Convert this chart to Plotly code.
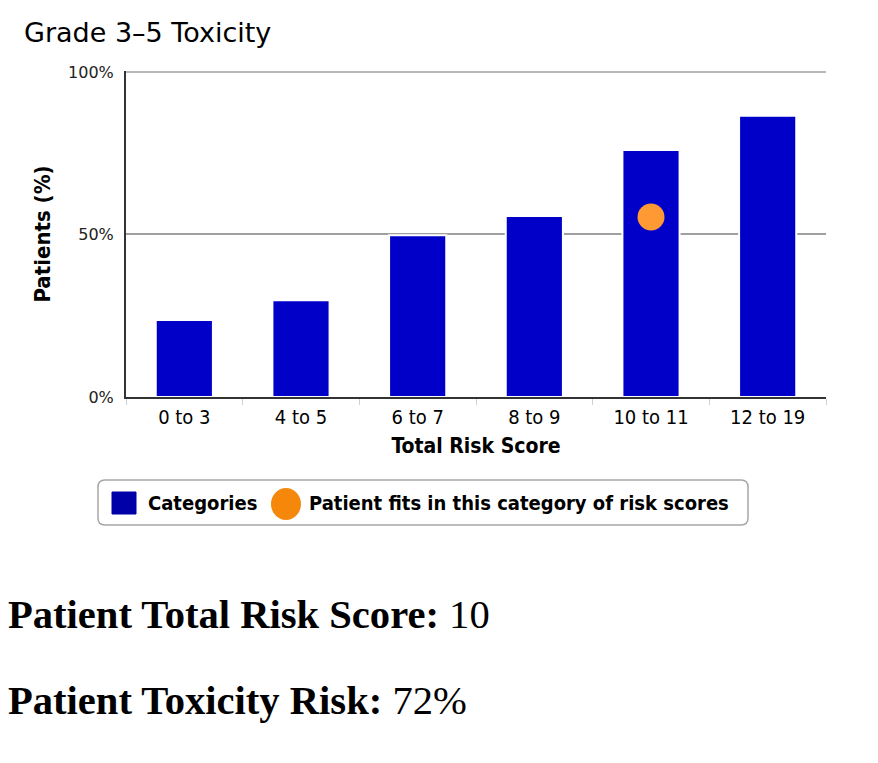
import plotly.graph_objects as go

categories = ["0 to 3", "4 to 5", "6 to 7", "8 to 9", "10 to 11", "12 to 19"]
bar_values = [23.7, 29.8, 49.8, 55.7, 76.0, 86.5]
patient_category = ["10 to 11"]
patient_value = [55.4]
y_tick_vals = [0, 50, 100]
y_tick_text = ["0%", "50%", "100%"]
legend_labels = ["Categories", "Patient fits in this category of risk scores"]
total_score = 10
toxicity_risk = "72%"

# page body has an 8px margin; work in reference-pixel coordinates
OFF = 8
W, H = 862, 747
PX0, PX1 = 126 - OFF, 826 - OFF       # plot area left / right in figure px
PY0, PY1 = 72 - OFF, 397 - OFF        # plot area top / bottom in figure px
YMAX = 100.3
PY0 = PY0 - (YMAX - 100) / 100 * (PY1 - PY0)

def fx(refx):
    return (refx - OFF - PX0) / (PX1 - PX0)

def fy(refy):
    return (PY1 - (refy - OFF)) / (PY1 - PY0)

BAR_BLUE = "#0000C8"
DOT_ORANGE = "#FF9933"
GRID = "#A0A0A0"
SANS = "DejaVu Sans"
SANS_C = "DejaVu Sans Condensed"

fig = go.Figure()
fig.add_trace(go.Bar(
    x=categories, y=bar_values, name=legend_labels[0],
    marker=dict(color=BAR_BLUE, line=dict(color="white", width=2)),
))
fig.add_trace(go.Scatter(
    x=patient_category, y=patient_value, mode="markers",
    name=legend_labels[1],
    marker=dict(color=DOT_ORANGE, size=27, line=dict(width=0)),
))

fig.update_layout(
    width=W, height=H,
    margin=dict(l=PX0, r=W - PX1, t=PY0, b=H - PY1, pad=0),
    paper_bgcolor="white", plot_bgcolor="white",
    font=dict(family=SANS, color="#000"),
    bargap=0.51,
    showlegend=False,
    title=dict(text="Grade 3–5 Toxicity", x=(24 - OFF) / W, xref="container", xanchor="left",
               y=1 - (33 - OFF) / H, yref="container", yanchor="middle",
               font=dict(family=SANS, size=27, color="#000")),
    xaxis=dict(
        type="category", showline=True, linecolor="#333", linewidth=1.5,
        ticks="outside", tickson="boundaries", ticklen=6, tickcolor="#C8D0D8",
        tickfont=dict(family=SANS_C, size=20, color="#000"),
        ticklabelstandoff=1,
        title=dict(text="Total Risk Score", font=dict(family=SANS_C, size=21, color="#000", weight="bold"), standoff=11),
        showgrid=False,
    ),
    yaxis=dict(
        range=[0, YMAX], tickvals=y_tick_vals, ticktext=y_tick_text,
        showline=True, linecolor="#333", linewidth=2,
        showgrid=True, gridcolor=GRID, gridwidth=1.5,
        zeroline=False,
        tickfont=dict(family=SANS, size=16, color="#222"),
        ticks="", ticklabelstandoff=7,
        title=dict(text="Patients (%)", font=dict(family=SANS_C, size=22, color="#000", weight="bold"), standoff=11),
    ),
)

# top gridline at 100%
fig.add_shape(type="line", xref="paper", yref="y", x0=0, x1=1, y0=100, y1=100,
              line=dict(color=GRID, width=1.5), layer="below")

# legend box (rounded) drawn in reference-pixel coordinates
bx0, bx1, by0, by1, rad = 98, 748, 480, 525, 7
rx = rad / (PX1 - PX0)
ry = rad / (PY1 - PY0)
X0, X1, Y0, Y1 = fx(bx0), fx(bx1), fy(by1), fy(by0)
path = (f"M {X0+rx},{Y0} L {X1-rx},{Y0} Q {X1},{Y0} {X1},{Y0+ry} "
        f"L {X1},{Y1-ry} Q {X1},{Y1} {X1-rx},{Y1} L {X0+rx},{Y1} "
        f"Q {X0},{Y1} {X0},{Y1-ry} L {X0},{Y0+ry} Q {X0},{Y0} {X0+rx},{Y0} Z")
fig.add_shape(type="path", path=path, xref="paper", yref="paper",
              line=dict(color="#A6A6A6", width=1.5), fillcolor="white", layer="below")
fig.add_shape(type="rect", xref="paper", yref="paper",
              x0=fx(112), x1=fx(136), y0=fy(514), y1=fy(492),
              line=dict(color="#0000A8", width=1), fillcolor="#0000A8")
fig.add_shape(type="circle", xref="paper", yref="paper",
              x0=fx(271), x1=fx(301), y0=fy(520), y1=fy(488),
              line=dict(color="#F5870A", width=0), fillcolor="#F5870A")
for txt, lx in zip(legend_labels, [146, 307]):
    fig.add_annotation(text=txt, xref="paper", yref="paper", x=fx(lx), xanchor="left",
                       y=fy(503), yanchor="middle", showarrow=False,
                       font=dict(family=SANS_C, size=20, color="#000", weight="bold"))

fig.add_annotation(
    text=f"<b>Patient Total Risk Score:</b> {total_score}",
    xref="paper", yref="paper", x=fx(6), xanchor="left",
    y=fy(614), yanchor="middle", showarrow=False,
    font=dict(family="Liberation Serif", size=40.6, color="#000"),
)
fig.add_annotation(
    text=f"<b>Patient Toxicity Risk:</b> {toxicity_risk}",
    xref="paper", yref="paper", x=fx(6), xanchor="left",
    y=fy(700), yanchor="middle", showarrow=False,
    font=dict(family="Liberation Serif", size=40.6, color="#000"),
)

fig.write_html("out.html")
